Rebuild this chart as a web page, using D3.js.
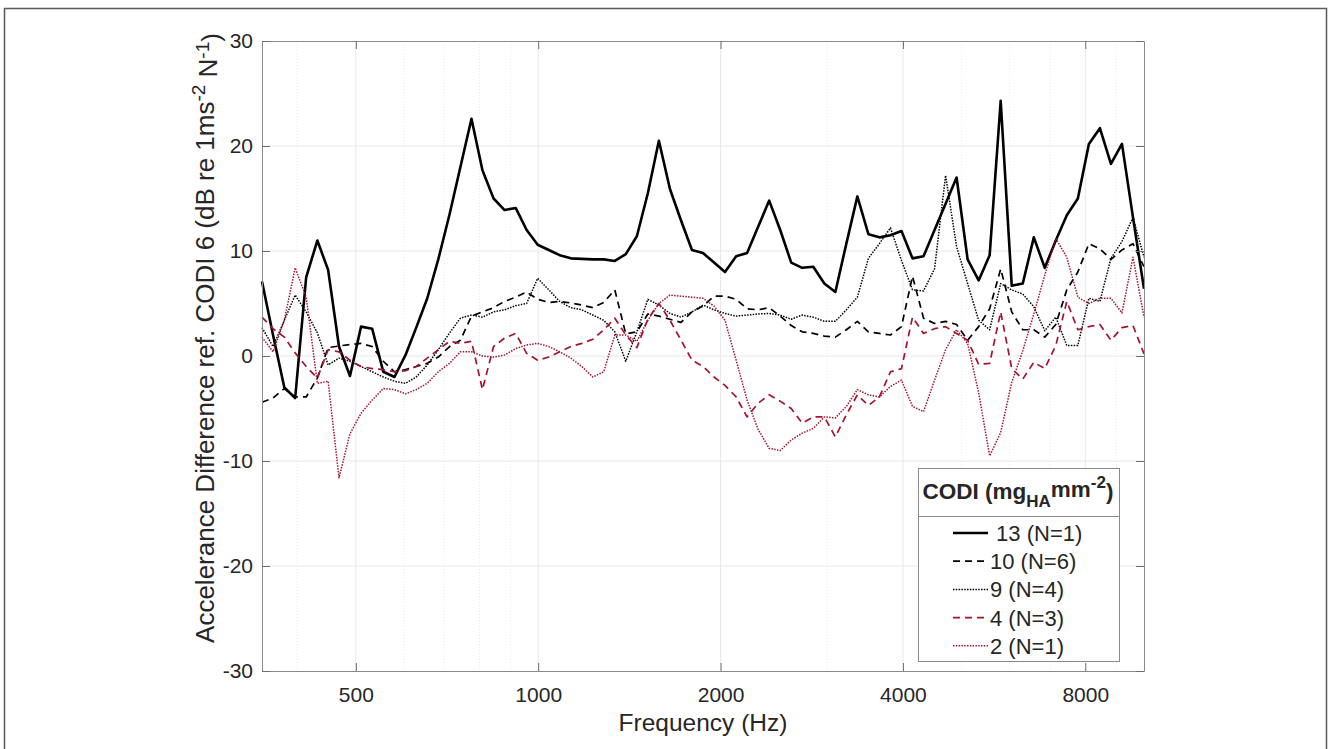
<!DOCTYPE html>
<html>
<head>
<meta charset="utf-8">
<script src="https://cdn.jsdelivr.net/npm/d3@7"></script>
<style>
  body { margin: 0; background: #fff; }
  svg text { font-family: "Liberation Sans", Arial, Helvetica, sans-serif; fill: #262626; }
  .axis .domain { stroke: #8a8a8a; }
  .axis line { stroke: #6e6e6e; }
</style>
</head>
<body>
<svg id="chart" width="1328" height="749"></svg>
<script>
// frequency grid (Hz)
const freqs = [350,365,381,397,414,432,450,469,489,510,
  532,555,579,604,629,656,684,714,744,776,
  809,844,880,918,957,998,1041,1085,1132,1180,
  1231,1283,1338,1395,1455,1517,1582,1650,1721,1794,
  1871,1951,2034,2122,2212,2307,2406,2509,2616,2728,
  2845,2967,3094,3226,3364,3508,3658,3815,3978,4148,
  4326,4511,4704,4905,5115,5334,5562,5800,6049,6308,
  6578,6858,7151,7457,7777,8110,8457,8819,9196,9590,
  10000];

// accelerance difference (dB) per CODI group
const codi13 = [7.1,2.0,-3.0,-4.0,7.5,11.0,8.2,0.9,-1.9,2.8,
  2.6,-1.5,-2.0,0.1,2.7,5.5,9.2,13.5,18.0,22.6,
  17.7,15.0,13.9,14.1,12.0,10.6,10.1,9.6,9.3,9.25,
  9.2,9.2,9.05,9.7,11.4,15.5,20.5,15.9,12.9,10.1,
  9.8,8.9,8.0,9.5,9.8,12.3,14.8,12.0,8.9,8.4,
  8.5,6.9,6.1,10.7,15.2,11.6,11.3,11.5,11.9,9.3,
  9.5,12.0,14.5,17.0,9.2,7.2,9.6,24.3,6.7,6.9,
  11.3,8.4,11.0,13.4,15.0,20.2,21.7,18.3,20.2,13.2,
  6.4];
const codi10 = [-4.4,-4.0,-3.1,-3.9,-3.9,-2.1,0.8,0.95,1.1,1.2,
  0.9,-0.5,-1.5,-1.3,-1.0,-0.7,-0.1,0.9,1.5,3.8,
  4.2,4.6,5.2,5.6,6.1,5.4,5.1,5.2,5.05,4.85,
  4.6,5.1,6.3,2.1,2.3,4.0,3.8,3.5,3.2,4.2,
  4.75,5.7,5.7,5.4,4.5,4.4,4.6,3.8,2.9,2.3,
  2.15,1.9,1.8,2.5,3.3,2.3,2.15,2.0,2.8,7.6,
  3.6,3.1,3.3,3.0,1.5,2.8,4.5,8.3,4.2,2.5,
  2.5,1.8,3.0,6.3,8.0,10.7,10.2,9.2,10.1,10.7,
  8.5];
const codi9 = [2.7,0.9,3.4,5.8,4.2,2.2,-0.85,-0.2,-0.5,-1.0,
  -1.5,-2.0,-2.4,-2.6,-2.0,-0.85,0.6,2.2,3.6,3.9,
  3.7,4.2,4.4,4.8,5.0,7.4,6.3,5.2,4.6,4.4,
  3.9,3.4,2.3,-0.5,2.3,5.4,4.85,4.05,3.7,4.2,
  4.85,4.4,4.05,3.8,3.9,4.0,4.05,3.9,3.5,3.9,
  3.7,3.3,3.3,4.4,5.6,9.3,10.7,12.2,9.1,6.3,
  6.2,8.3,17.2,10.4,6.9,3.4,2.5,6.9,6.3,5.9,
  4.7,2.4,3.7,1.0,1.0,5.5,5.2,9.3,10.9,13.2,
  9.4];
const codi4 = [3.7,2.6,1.8,0.3,-1.0,-2.1,0.6,0.4,-0.4,-1.0,
  -1.2,-1.3,-1.5,-1.4,-1.0,-0.2,0.6,1.4,1.2,1.4,
  -3.2,0.9,1.7,2.15,0.25,-0.4,-0.1,0.4,0.9,1.2,
  1.6,2.5,3.6,2.0,0.8,3.5,5.0,3.4,1.5,-0.4,
  -1.0,-2.0,-2.8,-3.9,-5.8,-4.5,-3.7,-4.3,-5.0,-6.4,
  -5.8,-5.8,-7.7,-5.6,-3.7,-4.7,-3.9,-1.5,-1.2,3.7,
  2.15,2.6,2.8,2.15,1.5,-0.8,-0.7,4.2,-1.2,-2.2,
  -0.6,-1.2,1.0,5.2,2.5,2.8,3.0,1.5,2.7,2.9,
  0.2];
const codi2 = [1.8,0.4,3.4,8.4,5.6,-2.6,-2.4,-11.6,-7.4,-5.45,
  -4.2,-3.1,-3.2,-3.6,-3.2,-2.6,-1.5,-0.7,0.4,0.4,
  0.0,-0.1,0.1,0.7,1.05,1.2,0.9,0.4,-0.2,-1.0,
  -2.0,-1.5,2.0,2.0,1.4,3.4,5.0,5.8,5.7,5.6,
  5.5,4.75,3.4,-0.4,-4.2,-7.0,-8.8,-9.0,-8.0,-7.35,
  -6.9,-5.8,-5.9,-4.8,-3.2,-3.7,-3.9,-2.9,-2.3,-4.8,
  -5.3,-2.3,0.6,2.5,1.2,-3.5,-9.5,-7.3,-2.5,0.5,
  4.0,7.7,11.2,9.4,5.6,5.0,5.5,5.5,4.1,9.4,
  3.7];

const seriesLabels = [" 13 (N=1)", "10 (N=6)", "9 (N=4)", "4 (N=3)", "2 (N=1)"];
const xTicks = [500, 1000, 2000, 4000, 8000];
const xMinor = [400, 600, 700, 800, 900, 3000, 5000, 6000, 7000, 9000];
const yTicks = [-30, -20, -10, 0, 10, 20, 30];

const RED = "#A2142F";
const series = [
  { vals: codi13, color: "#000", width: 2.6, dash: null },
  { vals: codi10, color: "#000", width: 1.7, dash: "7,5" },
  { vals: codi9,  color: "#000", width: 1.5, dash: "1.5,1.3" },
  { vals: codi4,  color: RED,    width: 1.7, dash: "7,5" },
  { vals: codi2,  color: RED,    width: 1.5, dash: "1.5,1.3" }
];

const svg = d3.select("#chart");
const pL = 262, pR = 1144, pT = 41, pB = 671;

// outer figure frame
svg.append("rect").attr("x", 4.5).attr("y", 8.5).attr("width", 1322).attr("height", 780)
  .attr("fill", "none").attr("stroke", "#5a5a5a").attr("stroke-width", 1.5);

const x = d3.scaleLog().domain([350, 10000]).range([pL, pR]);
const y = d3.scaleLinear().domain([-30, 30]).range([pB, pT]);

/* ---------- grid ---------- */
const grid = svg.append("g");
grid.selectAll(".minor").data(xMinor).join("line")
  .attr("x1", d => x(d)).attr("x2", d => x(d)).attr("y1", pT).attr("y2", pB)
  .attr("stroke", "#ececec").attr("stroke-dasharray", "1,2");
grid.selectAll(".majx").data(xTicks).join("line")
  .attr("x1", d => x(d)).attr("x2", d => x(d)).attr("y1", pT).attr("y2", pB)
  .attr("stroke", "#e8e8e8");
grid.selectAll(".majy").data(yTicks.slice(1, -1)).join("line")
  .attr("x1", pL).attr("x2", pR).attr("y1", d => y(d)).attr("y2", d => y(d))
  .attr("stroke", "#e8e8e8");

/* ---------- lines ---------- */
const line = d3.line().x((d, i) => x(freqs[i])).y(d => y(d));
const plot = svg.append("g");
series.forEach(s => {
  plot.append("path").datum(s.vals)
    .attr("d", line)
    .attr("fill", "none")
    .attr("stroke", s.color)
    .attr("stroke-width", s.width)
    .attr("stroke-linejoin", "round")
    .attr("stroke-dasharray", s.dash);
});

/* ---------- axes ---------- */
const fmt = d => String(d);
svg.append("g").attr("class", "axis").attr("transform", `translate(0,${pB})`)
  .call(d3.axisBottom(x).tickValues(xTicks).tickFormat(fmt).tickSize(-8).tickSizeOuter(0).tickPadding(16))
  .call(g => g.selectAll("text").style("font-size", "21px"));
svg.append("g").attr("class", "axis").attr("transform", `translate(0,${pT})`)
  .call(d3.axisTop(x).tickValues(xTicks).tickFormat("").tickSize(-8).tickSizeOuter(0));
svg.append("g").attr("class", "axis").attr("transform", `translate(${pL},0)`)
  .call(d3.axisLeft(y).tickValues(yTicks).tickFormat(fmt).tickSize(-8).tickSizeOuter(0).tickPadding(9))
  .call(g => g.selectAll("text").style("font-size", "21px"));
svg.append("g").attr("class", "axis").attr("transform", `translate(${pR},0)`)
  .call(d3.axisRight(y).tickValues(yTicks).tickFormat("").tickSize(-8).tickSizeOuter(0));
svg.selectAll(".axis text").attr("fill", "#262626");

/* ---------- axis labels ---------- */
svg.append("text").attr("x", (pL + pR) / 2).attr("y", 731)
  .attr("text-anchor", "middle").style("font-size", "24.5px").text("Frequency (Hz)");

const yl = svg.append("text").attr("transform", "translate(214,338) rotate(-90)")
  .attr("text-anchor", "middle").style("font-size", "26px");
yl.append("tspan").text("Accelerance Difference ref. CODI 6 (dB re 1ms");
yl.append("tspan").attr("dy", "-0.45em").style("font-size", "19px").text("-2");
yl.append("tspan").attr("dy", "0.45em").text(" N");
yl.append("tspan").attr("dy", "-0.45em").style("font-size", "19px").text("-1");
yl.append("tspan").attr("dy", "0.45em").text(")");

/* ---------- legend ---------- */
const lg = svg.append("g");
const lx = 918, ly = 468, lw = 201, lh = 193;
lg.append("rect").attr("x", lx + 0.5).attr("y", ly + 0.5).attr("width", lw).attr("height", lh)
  .attr("fill", "#fff").attr("stroke", "#8a8a8a");
lg.append("line").attr("x1", lx).attr("x2", lx + lw).attr("y1", 516.5).attr("y2", 516.5)
  .attr("stroke", "#8a8a8a");
const tt = lg.append("text").attr("x", lx + lw / 2 - 0.5).attr("y", 499)
  .attr("text-anchor", "middle").style("font-size", "22.5px").style("font-weight", "bold").attr("fill", "#000");
tt.append("tspan").text("CODI (mg");
tt.append("tspan").attr("dy", "0.45em").style("font-size", "17px").text("HA");
tt.append("tspan").attr("dy", "-0.45em").text("mm");
tt.append("tspan").attr("dy", "-0.5em").style("font-size", "17px").text("-2");
tt.append("tspan").attr("dy", "0.5em").text(")");

seriesLabels.forEach((lab, i) => {
  const cy = 533 + i * 28.2;
  const s = series[i];
  lg.append("line").attr("x1", 953).attr("x2", 988).attr("y1", cy).attr("y2", cy)
    .attr("stroke", s.color).attr("stroke-width", s.width).attr("stroke-dasharray", s.dash);
  lg.append("text").attr("x", 990).attr("y", cy + 8)
    .style("font-size", "22px").style("white-space", "pre").attr("fill", "#000").text(lab);
});
</script>
</body>
</html>
